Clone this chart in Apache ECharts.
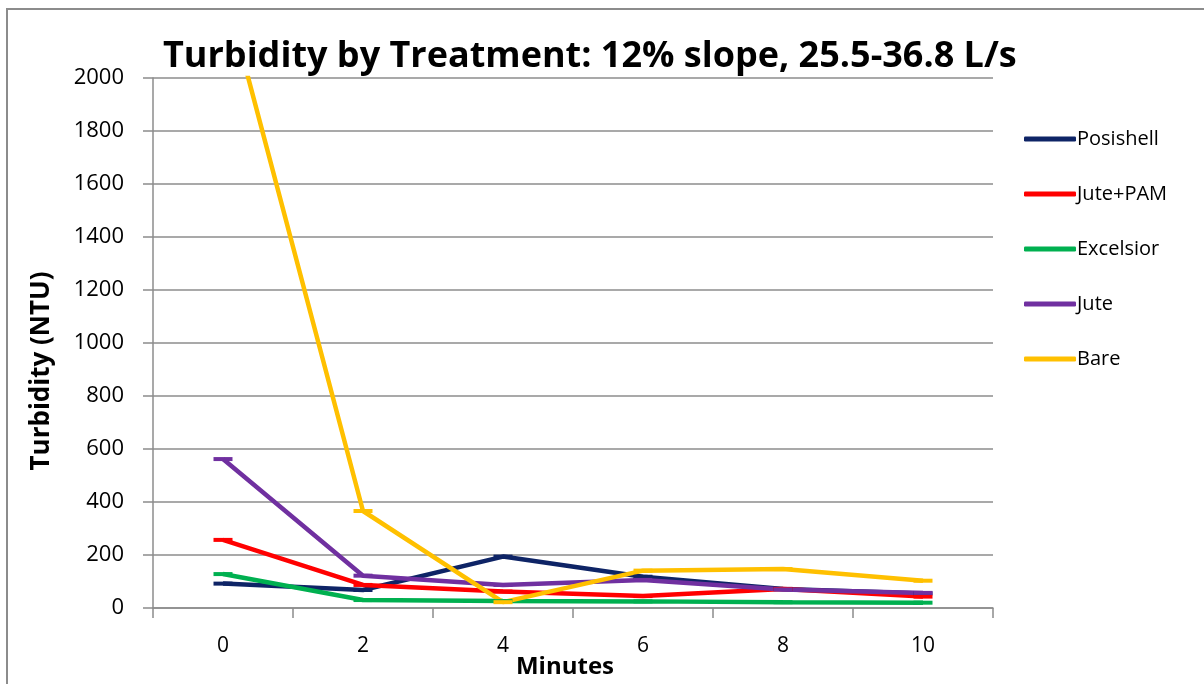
<!DOCTYPE html>
<html>
<head>
<meta charset="utf-8">
<title>Turbidity by Treatment</title>
<script src="https://cdn.jsdelivr.net/npm/echarts@6/dist/echarts.min.js"></script>
<style>
  html, body { margin: 0; padding: 0; background: #ffffff; }
  #chart { width: 1204px; height: 684px; }
</style>
</head>
<body>
<div id="chart"></div>
<script>
// Sampling times (minutes)
const minutes = ['0', '2', '4', '6', '8', '10'];

// Turbidity readings (NTU) per treatment
const posishell = [92, 68, 194, 118, 72, 55];
const jutePam   = [257, 87, 62, 45, 72, 43];
const excelsior = [128, 30, 26, 25, 22, 20];
const jute      = [562, 122, 87, 106, 70, 57];
const bare      = [2360, 366, 22, 141, 147, 103];

const seriesNames  = ['Posishell', 'Jute+PAM', 'Excelsior', 'Jute', 'Bare'];
const seriesValues = [posishell, jutePam, excelsior, jute, bare];
const seriesColors = ['#0E2466', '#FF0000', '#00B050', '#7030A0', '#FFC000'];

const FONT = '"Open Sans", Lato, sans-serif';
const GRID_GREY = '#8C8C8C';

const chart = echarts.init(document.getElementById('chart'), null, { renderer: 'canvas' });

chart.setOption({
  backgroundColor: '#ffffff',
  animation: false,
  title: {
    text: 'Turbidity by Treatment: 12% slope, 25.5-36.8 L/s',
    left: 158,
    top: 34,
    textStyle: { fontFamily: FONT, fontWeight: 'bold', fontSize: 36, color: '#000000' }
  },
  legend: {
    orient: 'vertical',
    left: 1019,
    top: 124,
    itemWidth: 52,
    itemHeight: 5,
    itemGap: 35,
    icon: 'roundRect',
    textStyle: { fontFamily: FONT, fontSize: 20, color: '#000000', padding: [0, 0, 0, -4] },
    data: seriesNames
  },
  grid: { left: 153, right: 211, top: 78, bottom: 76, containLabel: false, outerBoundsMode: 'none' },
  xAxis: {
    type: 'category',
    data: minutes,
    boundaryGap: true,
    axisLine: { show: true, lineStyle: { color: GRID_GREY, width: 1.5 } },
    axisTick: { show: true, inside: false, length: 10, alignWithLabel: false, lineStyle: { color: GRID_GREY, width: 1.5 } },
    axisLabel: { margin: 28, fontFamily: FONT, fontSize: 21, color: '#000000' },
    splitLine: { show: false }
  },
  yAxis: {
    type: 'value',
    min: 0,
    max: 2000,
    interval: 200,
    axisLine: { show: true, lineStyle: { color: GRID_GREY, width: 1.5 } },
    axisTick: { show: true, inside: false, length: 10, lineStyle: { color: GRID_GREY, width: 1.5 } },
    axisLabel: { margin: 29, fontFamily: FONT, fontSize: 22, color: '#000000', formatter: (v) => String(v) },
    splitLine: { show: true, lineStyle: { color: GRID_GREY, width: 1.5 } }
  },
  graphic: [
    {
      // outer chart frame
      type: 'rect',
      silent: true,
      shape: { x: 7, y: 9, width: 1230, height: 720 },
      style: { fill: null, stroke: '#8C8C8C', lineWidth: 2 }
    },
    {
      // y-axis title
      type: 'text',
      silent: true,
      x: 42,
      y: 371,
      rotation: Math.PI / 2,
      style: {
        text: 'Turbidity (NTU)',
        fontFamily: FONT,
        fontWeight: 'bold',
        fontSize: 26,
        fill: '#000000',
        align: 'center',
        verticalAlign: 'middle'
      }
    },
    {
      // x-axis title
      type: 'text',
      silent: true,
      x: 565,
      y: 667,
      style: {
        text: 'Minutes',
        fontFamily: FONT,
        fontWeight: 'bold',
        fontSize: 24,
        fill: '#000000',
        align: 'center',
        verticalAlign: 'middle'
      }
    }
  ],
  series: seriesNames.map((name, i) => ({
    name: name,
    type: 'line',
    data: seriesValues[i],
    clip: true,
    showSymbol: true,
    symbol: 'rect',
    symbolSize: [19, 4],
    itemStyle: { color: seriesColors[i] },
    lineStyle: { color: seriesColors[i], width: 4.5 },
    emphasis: { disabled: true }
  }))
});
</script>
</body>
</html>
